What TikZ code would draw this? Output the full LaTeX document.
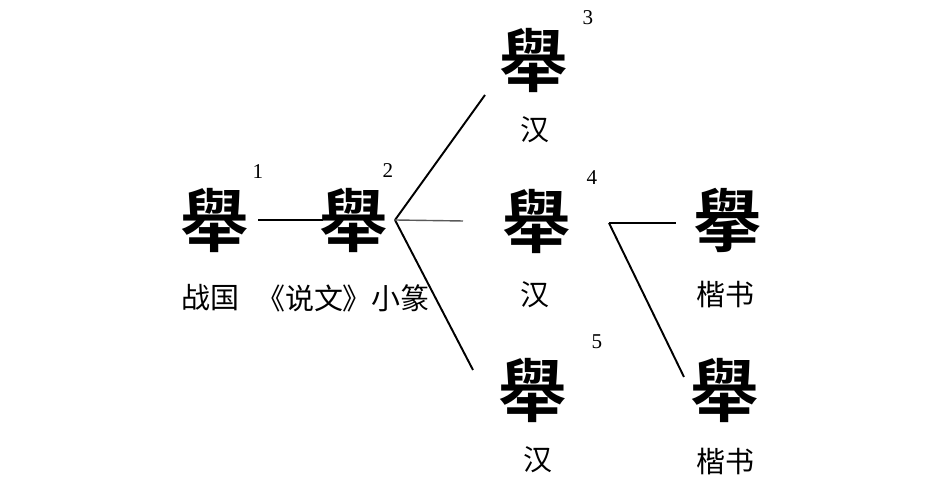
\documentclass[tikz,border=0pt]{standalone}
\usepackage{fontspec}
\usepackage{tikz}
\usetikzlibrary{positioning}
\usetikzlibrary{calc}
\newfontfamily\cjk{Noto Sans CJK SC}
\newfontfamily\cjkold{Noto Sans CJK TC}[BoldFont={* Bold}]
\setmainfont{Liberation Serif}
\tikzstyle{glyph}=[inner sep=0pt,font=\cjkold\bfseries\fontsize{39}{39}\selectfont]
\tikzstyle{era}=[inner sep=0pt,font=\cjk\fontsize{16.5}{16.5}\selectfont]
\tikzstyle{idx}=[inner sep=0pt,font=\fontsize{12}{12}\selectfont]
\tikzstyle{edge} = [draw,line width=1.1pt]
\tikzstyle{faintedge} = [draw,line width=0.8pt,black!65]

\begin{document}
\begin{tikzpicture}[auto,swap]

 \useasboundingbox (0,0) rectangle (18.98,9.82);

 %glyphs
   \foreach \x/\y/\name/\label in {4.30/5.42/g1/舉, 7.08/5.42/g2/舉, 10.68/8.60/g3/舉, 10.74/5.38/g4/舉, 10.66/2.02/g5/舉, 14.56/5.42/g6/擧, 14.50/2.02/g7/舉}
          \node[glyph] (\name) at (\x, \y) {\label};

 %eras
   \foreach \x/\y/\name/\label in {4.20/3.86/e1/战国, 6.86/3.86/e2/《说文》小篆, 10.70/7.22/e3/汉, 10.70/3.92/e4/汉, 10.76/0.62/e5/汉, 14.50/3.92/e6/楷书, 14.50/0.58/e7/楷书}
          \node[era] (\name) at (\x, \y) {\label};

 %numbers
   \foreach \x/\y/\name/\label in {5.16/6.38/n1/1, 7.76/6.40/n2/2, 11.76/9.46/n3/3, 11.84/6.26/n4/4, 11.94/2.98/n5/5}
          \node[idx] (\name) at (\x, \y) {\label};

 %line ends
   \foreach \x/\y/\name in {5.16/5.42/a1, 6.46/5.42/a2, 7.90/5.42/hub, 9.70/7.92/t3, 9.26/5.40/t4, 9.46/2.42/t5, 12.18/5.36/hubb, 13.52/5.36/t6, 13.68/2.28/t7}
          \coordinate (\name) at (\x, \y);

  \foreach \source/ \dest in {a1/a2, hub/t3, hub/t5, hubb/t6, hubb/t7}
         \path[edge] (\source) -- (\dest);

  \path[faintedge] (hub) -- (t4);

\end{tikzpicture}
\end{document}
